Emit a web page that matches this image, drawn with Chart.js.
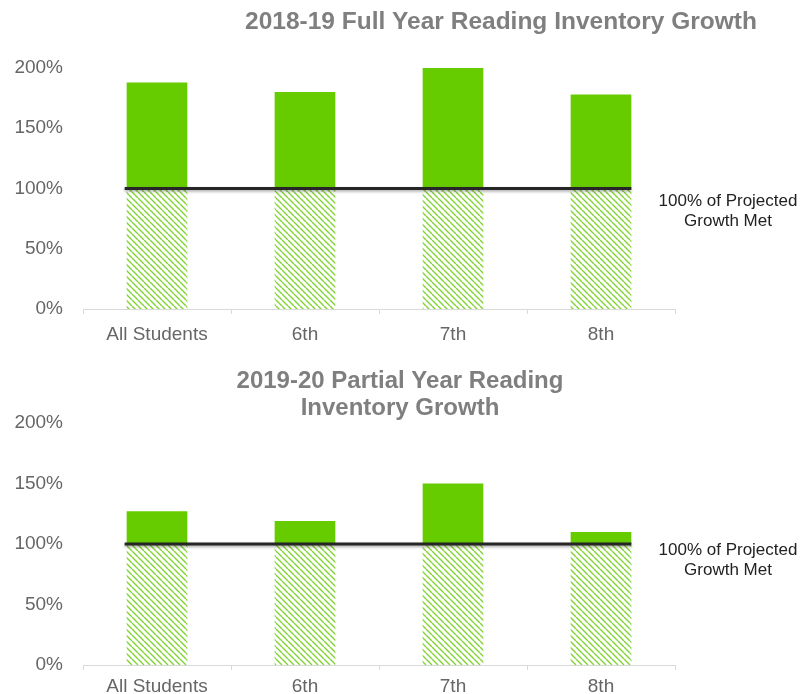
<!DOCTYPE html>
<html>
<head>
<meta charset="utf-8">
<script src="https://cdn.jsdelivr.net/npm/chart.js@4.4.1/dist/chart.umd.min.js"></script>
<style>
  html, body { margin: 0; padding: 0; background: #ffffff; }
  #wrap { position: relative; width: 800px; height: 694px; overflow: hidden; }
  .box { position: absolute; left: 0; width: 800px; }
  #box1 { top: 0; height: 347px; }
  #box2 { top: 347px; height: 360px; }
</style>
</head>
<body>
<div id="wrap">
  <div class="box" id="box1"><canvas id="c1"></canvas></div>
  <div class="box" id="box2"><canvas id="c2"></canvas></div>
</div>
<script>
// ---- data ----
const categories = ['All Students', '6th', '7th', '8th'];
const projectedGrowth = [100, 100, 100, 100];
const fullYearGrowth = [188, 180, 200, 178];
const partialYearGrowth = [127, 119, 150, 110];
const yTickValues = [0, 50, 100, 150, 200];
const title1Lines = ['2018-19 Full Year Reading Inventory Growth'];
const title2Lines = ['2019-20 Partial Year Reading', 'Inventory Growth'];
const referenceLabelLines = ['100% of Projected', 'Growth Met'];
const referenceValue = 100;

// ---- styling ----
const FONT = "'Liberation Sans', Arial, sans-serif";
const SOLID_GREEN = '#66CC00';

function makeHatch() {
  const s = 6;
  const c = document.createElement('canvas');
  c.width = s; c.height = s;
  const g = c.getContext('2d');
  g.strokeStyle = 'rgba(110,205,20,0.85)';
  g.lineWidth = 1.4;
  for (const off of [-s, 0, s]) {
    g.beginPath();
    g.moveTo(off, 0);
    g.lineTo(off + s, s);
    g.stroke();
  }
  return g.createPattern(c, 'repeat');
}

const annotationPlugin = {
  id: 'annot',
  afterDatasetsDraw(chart, args, opts) {
    const ctx = chart.ctx;
    const y = chart.scales.y.getPixelForValue(opts.value);
    const meta = chart.getDatasetMeta(0);
    const first = meta.data[0], last = meta.data[meta.data.length - 1];
    const x0 = first.x - first.width / 2 - 2;
    const x1 = last.x + last.width / 2;
    ctx.save();
    ctx.shadowColor = 'rgba(0,0,0,0.35)';
    ctx.shadowBlur = 3;
    ctx.shadowOffsetY = 1.5;
    ctx.strokeStyle = '#262626';
    ctx.lineWidth = 3;
    ctx.beginPath();
    ctx.moveTo(x0, y);
    ctx.lineTo(x1, y);
    ctx.stroke();
    ctx.restore();

    ctx.save();
    ctx.font = '17px ' + FONT;
    ctx.fillStyle = '#222222';
    ctx.textAlign = 'center';
    ctx.textBaseline = 'middle';
    opts.lines.forEach((t, i) => {
      ctx.fillText(t, opts.labelX, y + opts.labelDy + i * 19.5);
    });
    ctx.restore();
  },
  afterDraw(chart, args, opts) {
    const ctx = chart.ctx;
    ctx.save();
    ctx.font = 'bold ' + opts.titleSize + 'px ' + FONT;
    ctx.fillStyle = '#7f7f7f';
    ctx.textAlign = 'center';
    ctx.textBaseline = 'middle';
    opts.title.forEach((t, i) => {
      ctx.fillText(t, opts.titleX, opts.titleY + i * 27.5);
    });
    ctx.restore();
  }
};

function makeChart(id, values, cfg) {
  const hatch = makeHatch();
  return new Chart(document.getElementById(id), {
    type: 'bar',
    data: {
      labels: categories,
      datasets: [
        {
          label: 'Projected',
          data: projectedGrowth,
          backgroundColor: hatch,
          borderWidth: 0,
          grouped: false,
          categoryPercentage: 1,
          barPercentage: 0.41
        },
        {
          label: 'Growth',
          data: categories.map((c, i) => [projectedGrowth[i], values[i]]),
          backgroundColor: SOLID_GREEN,
          borderWidth: 0,
          grouped: false,
          categoryPercentage: 1,
          barPercentage: 0.41
        }
      ]
    },
    options: {
      responsive: true,
      maintainAspectRatio: false,
      animation: false,
      layout: { padding: { top: cfg.padTop, right: 125, left: 0, bottom: 0 } },
      plugins: {
        legend: { display: false },
        tooltip: { enabled: false },
        title: { display: false },
        annot: {
          value: referenceValue,
          lines: referenceLabelLines,
          labelX: 728,
          labelDy: cfg.labelDy,
          title: cfg.title,
          titleX: cfg.titleX,
          titleY: cfg.titleY,
          titleSize: cfg.titleSize
        }
      },
      scales: {
        x: {
          grid: { display: true, drawOnChartArea: false, offset: true, tickLength: 5, color: '#d9d9d9', lineWidth: 1 },
          border: { display: true, color: '#d9d9d9', width: 1 },
          ticks: { color: '#666666', font: { family: FONT, size: 19 }, padding: cfg.xPad, maxRotation: 0, autoSkip: false },
          afterFit(scale) { scale.height = cfg.xHeight; }
        },
        y: {
          min: 0, max: 200,
          afterBuildTicks(scale) { scale.ticks = yTickValues.map(v => ({ value: v })); },
          grid: { display: false, drawTicks: false },
          border: { display: false },
          ticks: { color: '#666666', font: { family: FONT, size: 19 }, padding: 20, callback: v => v + '%' },
          afterFit(scale) { scale.width = 83; }
        }
      }
    },
    plugins: [annotationPlugin]
  });
}

makeChart('c1', fullYearGrowth, {
  padTop: 68, xHeight: 38, xPad: 9, labelDy: 13,
  title: title1Lines, titleX: 501, titleY: 22, titleSize: 24.5
});
makeChart('c2', partialYearGrowth, {
  padTop: 76, xHeight: 42, xPad: 5, labelDy: 6.5,
  title: title2Lines, titleX: 400, titleY: 34, titleSize: 24
});
</script>
</body>
</html>
